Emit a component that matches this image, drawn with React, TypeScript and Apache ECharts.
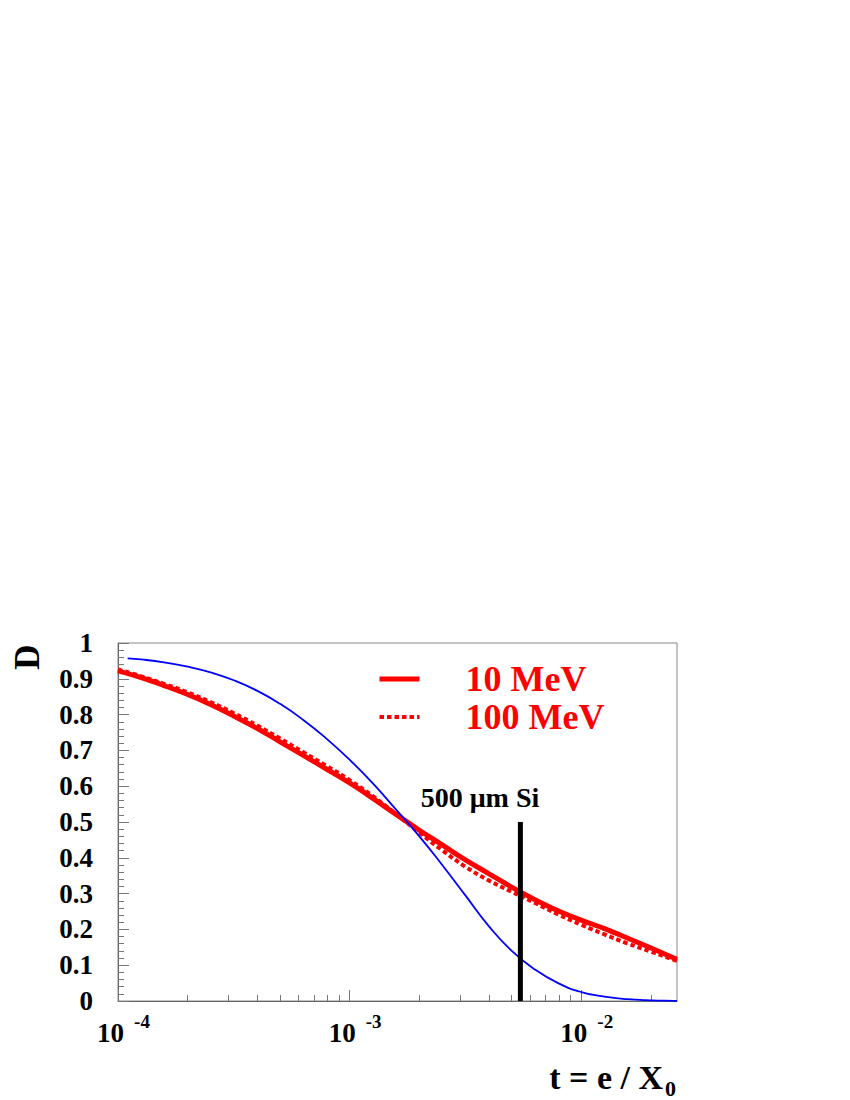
import React, { useEffect, useRef } from "react";
import * as echarts from "echarts";

// ---- data ----
const tRed = [1.0e-4, 1.26e-4, 1.58e-4, 2.0e-4, 2.51e-4, 3.16e-4, 3.98e-4, 5.01e-4, 6.31e-4, 7.94e-4, 1.0e-3, 1.26e-3, 1.58e-3, 2.0e-3, 2.51e-3, 3.16e-3, 3.98e-3, 5.01e-3, 6.31e-3, 7.94e-3, 1.0e-2, 1.26e-2, 1.58e-2, 2.0e-2, 2.51e-2, 2.59e-2];
const d10MeV = [0.922, 0.903, 0.881, 0.856, 0.828, 0.796, 0.762, 0.724, 0.686, 0.648, 0.609, 0.566, 0.522, 0.477, 0.436, 0.394, 0.356, 0.318, 0.283, 0.252, 0.226, 0.202, 0.176, 0.148, 0.120, 0.117];
const d100MeV = [0.926, 0.907, 0.886, 0.862, 0.835, 0.804, 0.770, 0.733, 0.695, 0.657, 0.617, 0.572, 0.523, 0.470, 0.421, 0.375, 0.337, 0.305, 0.274, 0.242, 0.213, 0.186, 0.161, 0.138, 0.115, 0.112];
const tBlue = [1.1e-4, 1.26e-4, 1.58e-4, 2.0e-4, 2.51e-4, 3.16e-4, 3.98e-4, 5.01e-4, 6.31e-4, 7.94e-4, 1.0e-3, 1.26e-3, 1.58e-3, 2.0e-3, 2.51e-3, 3.16e-3, 3.98e-3, 5.01e-3, 6.31e-3, 7.94e-3, 1.0e-2, 1.26e-2, 1.58e-2, 2.0e-2, 2.51e-2, 2.59e-2];
const dBlue = [0.957, 0.954, 0.946, 0.934, 0.918, 0.896, 0.867, 0.830, 0.785, 0.733, 0.674, 0.608, 0.536, 0.460, 0.380, 0.295, 0.210, 0.140, 0.088, 0.050, 0.025, 0.012, 0.005, 0.0018, 0.0005, 0.0004];
const siT = 0.00546;
const siD = [0, 0.5];
const xMin = 1e-4;
const xMax = 0.0259;
const xMinorTicks = [2e-4, 3e-4, 4e-4, 5e-4, 6e-4, 7e-4, 8e-4, 9e-4, 2e-3, 3e-3, 4e-3, 5e-3, 6e-3, 7e-3, 8e-3, 9e-3, 2e-2];
const seriesNames = ["10 MeV", "100 MeV"];
const siLabel = "500 μm Si";

const FONT = "'Liberation Serif', 'Times New Roman', serif";

export default function App() {
  const ref = useRef<HTMLDivElement>(null);
  useEffect(() => {
    document.body.style.margin = "0";
    if (!ref.current) return;
    const chart = echarts.init(ref.current, null, { renderer: "svg" });
    const pair = (ts: number[], ds: number[]) => ts.map((t, i) => [t, ds[i]]);
    const tickColor = "#777";
    chart.setOption({
      animation: false,
      backgroundColor: "#fff",
      grid: { left: 118, top: 643, width: 559, height: 358, show: true, borderColor: "#888", borderWidth: 1, containLabel: false },
      legend: {
        data: [
          { name: seriesNames[0], lineStyle: { width: 5, color: "#ff0000" } },
          { name: seriesNames[1], lineStyle: { width: 4, color: "#ff0000", type: [4.5, 3] } },
        ],
        orient: "vertical",
        left: 372,
        top: 656,
        itemWidth: 40,
        itemHeight: 14,
        itemGap: 2,
        itemStyle: { opacity: 0 },
        textStyle: { color: "#ff0000", fontSize: 36, fontWeight: "bold", fontFamily: FONT, lineHeight: 34, padding: [0, 0, 0, 41] },
      },
      xAxis: [
        {
          type: "log",
          logBase: 10,
          min: xMin,
          max: xMax,
          axisLine: { show: true, lineStyle: { color: "#666", width: 1 } },
          axisTick: { show: true, inside: true, length: 11, lineStyle: { color: tickColor } },
          minorTick: { show: false },
          splitLine: { show: false },
          axisLabel: {
            margin: 11,
            padding: [0, 0, 0, 11],
            showMaxLabel: false,
            formatter: (v: number) => {
              const l = Math.log10(v);
              const e = Math.round(l);
              if (Math.abs(l - e) > 1e-6) return "";
              return `{b|10}{e|${e}}`;
            },
            rich: {
              b: { fontSize: 27, fontWeight: "bold", fontFamily: FONT, color: "#000", lineHeight: 34, verticalAlign: "bottom" },
              e: { fontSize: 19, fontWeight: "bold", fontFamily: FONT, color: "#000", lineHeight: 34, verticalAlign: "top", padding: [0, 0, 0, 10] },
            },
          },
        },
        {
          type: "value",
          min: Math.log10(xMin),
          max: Math.log10(xMax),
          position: "bottom",
          axisLine: { show: false },
          axisLabel: { show: false },
          splitLine: { show: false },
          axisTick: { show: true, inside: true, length: 6, customValues: xMinorTicks.map((v) => Math.log10(v)), lineStyle: { color: tickColor } },
        },
      ],
      yAxis: {
        type: "value",
        min: 0,
        max: 1,
        interval: 0.1,
        axisLine: { show: true, lineStyle: { color: "#666", width: 1 } },
        axisTick: { show: true, inside: true, length: 11, lineStyle: { color: tickColor } },
        minorTick: { show: true, splitNumber: 5, length: 6, lineStyle: { color: tickColor } },
        splitLine: { show: false },
        axisLabel: {
          margin: 25,
          fontSize: 27,
          fontWeight: "bold",
          fontFamily: FONT,
          color: "#000",
          formatter: (v: number) => (v === 0 ? "0" : v === 1 ? "1" : v.toFixed(1)),
        },
      },
      series: [
        {
          name: "blue",
          type: "line",
          data: pair(tBlue, dBlue),
          symbol: "none",
          smooth: 0.5,
          lineStyle: { color: "#0000ff", width: 1.8 },
          z: 3,
        },
        {
          name: seriesNames[0],
          type: "line",
          data: pair(tRed, d10MeV),
          symbol: "none",
          smooth: 0.4,
          color: "#ff0000",
          lineStyle: { color: "#ff0000", width: 5 },
          z: 2,
        },
        {
          name: seriesNames[1],
          type: "line",
          data: pair(tRed, d100MeV),
          symbol: "none",
          smooth: 0.4,
          color: "#ff0000",
          lineStyle: { color: "#ff0000", width: 4, type: [4.5, 3] },
          z: 2,
        },
        {
          name: "Si",
          type: "line",
          data: siD.map((d) => [siT, d]),
          symbol: "none",
          lineStyle: { color: "#000", width: 5 },
          z: 4,
        },
      ],
      graphic: [
        {
          type: "text",
          x: 27,
          y: 657,
          rotation: Math.PI / 2,
          style: { text: "D", font: `bold 35px ${FONT}`, fill: "#000", align: "center", verticalAlign: "middle" },
        },
        {
          type: "text",
          x: 663,
          y: 1094,
          style: { text: "t = e / X", font: `bold 34px ${FONT}`, fill: "#000", align: "right", verticalAlign: "bottom" },
        },
        {
          type: "text",
          x: 665,
          y: 1099,
          style: { text: "0", font: `bold 22px ${FONT}`, fill: "#000", align: "left", verticalAlign: "bottom" },
        },
        {
          type: "text",
          x: 480,
          y: 811,
          style: { text: siLabel, font: `bold 28px ${FONT}`, fill: "#000", align: "center", verticalAlign: "bottom" },
        },
      ],
    });
    return () => chart.dispose();
  }, []);
  return <div ref={ref} style={{ width: 850, height: 1100, overflow: "hidden" }} />;
}
